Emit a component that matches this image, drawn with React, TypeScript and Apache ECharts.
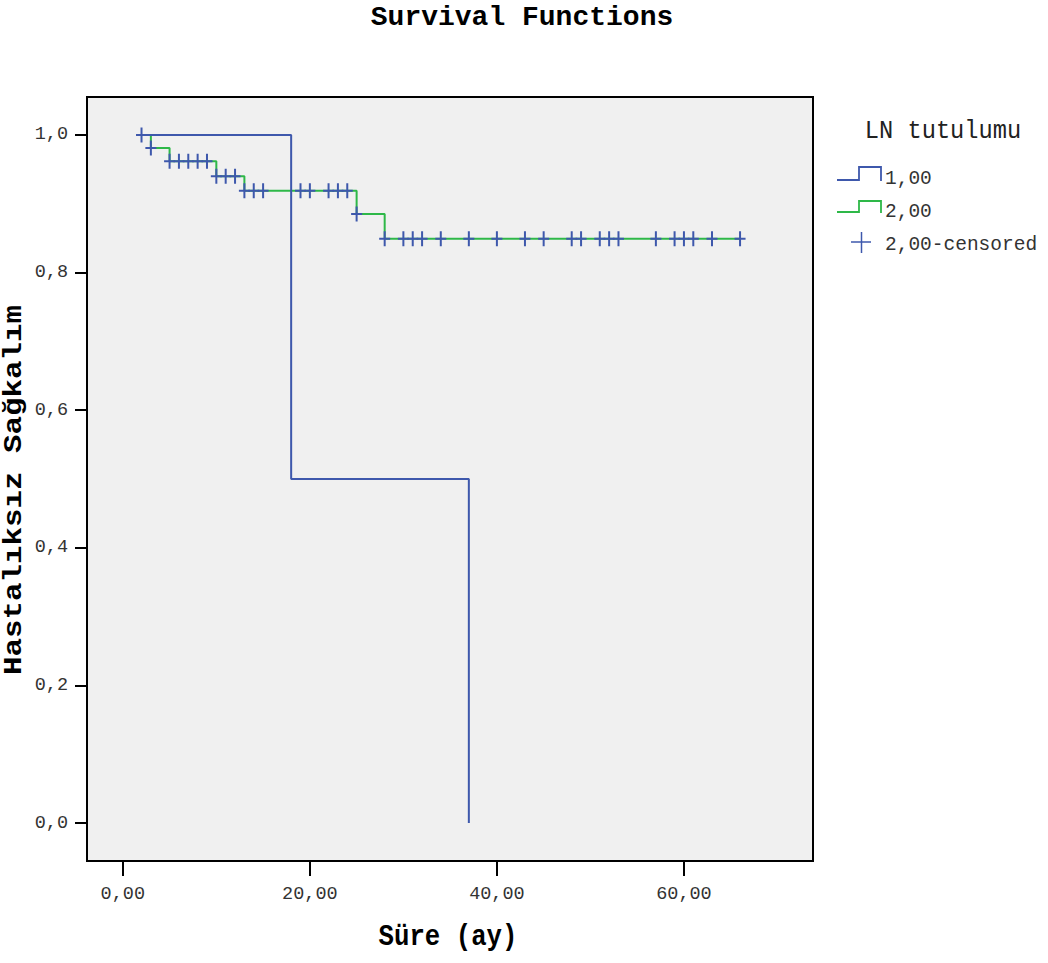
import React, { useEffect, useRef } from "react";
import * as echarts from "echarts";

// Axis ticks
const xTicks = [0, 20, 40, 60];
const yTicks = [0, 0.2, 0.4, 0.6, 0.8, 1.0];

// LN tutulumu = 1,00 (step points: time, cumulative survival)
const group1Times = [2, 18, 37];
const group1Surv = [1.0, 0.5, 0.0];

// LN tutulumu = 2,00
const group2Times = [2, 3, 5, 10, 13, 25, 28, 66];
const group2Surv = [1.0, 0.981, 0.962, 0.94, 0.919, 0.885, 0.849, 0.849];

// Censored observations in group 2,00
const group2Censored = [
  2, 3, 5, 6, 7, 8, 9, 10, 11, 12, 13, 14, 15, 19, 20, 22, 23, 24, 25, 28, 30,
  31, 32, 34, 37, 40, 43, 45, 48, 49, 51, 52, 53, 57, 59, 60, 61, 63, 66,
];

const BLUE = "#3E58AC";
const GREEN = "#2EB848";
const MONO = '"Liberation Mono", "DejaVu Sans Mono", monospace';

const survivalAt = (times: number[], surv: number[], t: number) => {
  let s = surv[0];
  for (let i = 0; i < times.length; i++) {
    if (times[i] <= t) s = surv[i];
  }
  return s;
};

const CROSS =
  "path://M0,6.5 L11,6.5 L11,8.5 L0,8.5 Z M4.5,0 L6.5,0 L6.5,15 L4.5,15 Z";

export default function App() {
  const ref = useRef<HTMLDivElement>(null);

  useEffect(() => {
    if (!ref.current) return;
    const chart = echarts.init(ref.current, null, { renderer: "svg" });

    const line1 = group1Times.map((t, i) => [t, group1Surv[i]]);
    const line2 = group2Times.map((t, i) => [t, group2Surv[i]]);
    const censored = group2Censored.map((t) => [
      t,
      survivalAt(group2Times, group2Surv, t),
    ]);

    const labelStyle = {
      fontFamily: MONO,
      fontSize: 18.5,
      color: "#333",
    };

    chart.setOption({
      animation: false,
      backgroundColor: "#fff",
      grid: {
        left: 87,
        top: 97,
        right: 1048 - 813,
        bottom: 963 - 861,
        show: true,
        backgroundColor: "#F0F0F0",
        borderColor: "#000",
        borderWidth: 2,
      },
      xAxis: {
        type: "value",
        min: -3.83,
        max: 73.8,
        axisLine: { show: false, onZero: false },
        splitLine: { show: false },
        axisTick: {
          show: true,
          length: 15,
          customValues: xTicks,
          lineStyle: { color: "#000", width: 2 },
        },
        axisLabel: {
          ...labelStyle,
          margin: 24,
          customValues: xTicks,
          formatter: (v: number) => v.toFixed(2).replace(".", ","),
        },
      },
      yAxis: {
        type: "value",
        min: -0.0552,
        max: 1.0552,
        axisLine: { show: false, onZero: false },
        splitLine: { show: false },
        axisTick: {
          show: true,
          length: 12,
          customValues: yTicks,
          lineStyle: { color: "#000", width: 2 },
        },
        axisLabel: {
          ...labelStyle,
          margin: 19,
          customValues: yTicks,
          formatter: (v: number) => v.toFixed(1).replace(".", ","),
        },
      },
      series: [
        {
          name: "2,00",
          type: "line",
          step: "end",
          data: line2,
          showSymbol: false,
          lineStyle: { color: GREEN, width: 2 },
          z: 2,
        },
        {
          name: "1,00",
          type: "line",
          step: "end",
          data: line1,
          showSymbol: false,
          lineStyle: { color: BLUE, width: 2 },
          z: 3,
        },
        {
          name: "2,00-censored",
          type: "scatter",
          data: censored,
          symbol: CROSS,
          symbolSize: [11, 15],
          itemStyle: { color: BLUE, opacity: 1 },
          z: 4,
        },
      ],
      graphic: [
        {
          type: "text",
          x: 522,
          y: 17,
          style: {
            text: "Survival Functions",
            font: `bold 28px ${MONO}`,
            fill: "#000",
            textAlign: "center",
            textVerticalAlign: "middle",
          },
        },
        {
          type: "text",
          x: 448,
          y: 937,
          scaleY: 1.15,
          style: {
            text: "Süre (ay)",
            font: `bold 25.7px ${MONO}`,
            fill: "#000",
            textAlign: "center",
            textVerticalAlign: "middle",
          },
        },
        {
          type: "text",
          x: 14,
          y: 490,
          rotation: Math.PI / 2,
          scaleX: 1.2,
          style: {
            text: "Hastalıksız Sağkalım",
            font: `bold 25.7px ${MONO}`,
            fill: "#000",
            textAlign: "center",
            textVerticalAlign: "middle",
          },
        },
        {
          type: "text",
          x: 943,
          y: 131,
          scaleY: 1.1,
          style: {
            text: "LN tutulumu",
            font: `23.7px ${MONO}`,
            fill: "#222",
            textAlign: "center",
            textVerticalAlign: "middle",
          },
        },
        {
          type: "polyline",
          shape: {
            points: [
              [837, 180],
              [859, 180],
              [859, 167],
              [881, 167],
              [881, 181],
            ],
          },
          style: { stroke: BLUE, lineWidth: 1.8, fill: null },
        },
        {
          type: "text",
          x: 885,
          y: 179,
          style: {
            text: "1,00",
            font: `19.5px ${MONO}`,
            fill: "#333",
            textAlign: "left",
            textVerticalAlign: "middle",
          },
        },
        {
          type: "polyline",
          shape: {
            points: [
              [837, 212],
              [859, 212],
              [859, 201],
              [881, 201],
              [881, 213],
            ],
          },
          style: { stroke: GREEN, lineWidth: 1.8, fill: null },
        },
        {
          type: "text",
          x: 885,
          y: 212,
          style: {
            text: "2,00",
            font: `19.5px ${MONO}`,
            fill: "#333",
            textAlign: "left",
            textVerticalAlign: "middle",
          },
        },
        {
          type: "line",
          shape: { x1: 851, y1: 242, x2: 871, y2: 242 },
          style: { stroke: BLUE, lineWidth: 1.5 },
        },
        {
          type: "line",
          shape: { x1: 861.5, y1: 232, x2: 861.5, y2: 253 },
          style: { stroke: BLUE, lineWidth: 1.5 },
        },
        {
          type: "text",
          x: 885,
          y: 245,
          style: {
            text: "2,00-censored",
            font: `19.5px ${MONO}`,
            fill: "#333",
            textAlign: "left",
            textVerticalAlign: "middle",
          },
        },
      ],
    });

    return () => chart.dispose();
  }, []);

  return (
    <div
      ref={ref}
      style={{ position: "fixed", left: 0, top: 0, width: 1048, height: 963 }}
    />
  );
}
